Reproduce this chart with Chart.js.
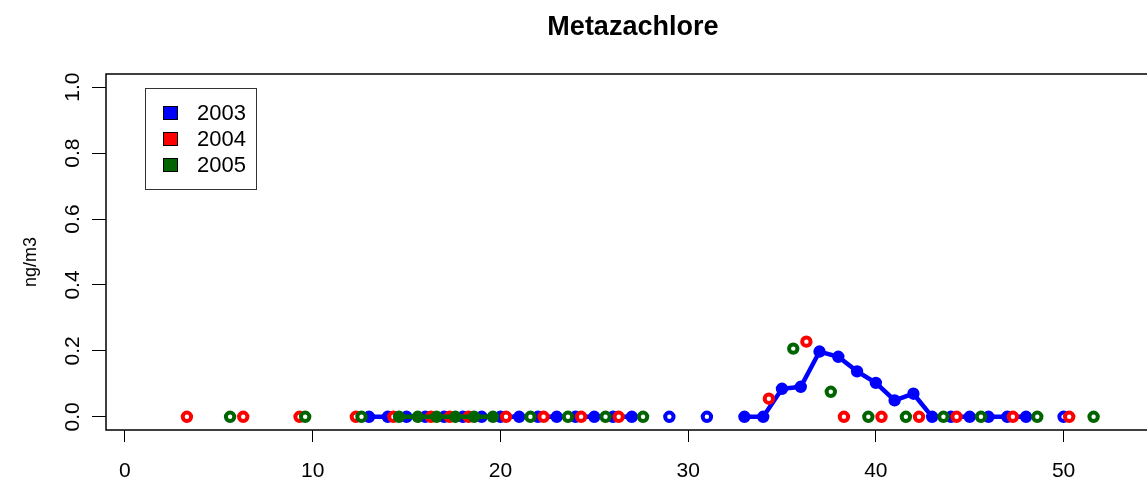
<!DOCTYPE html>
<html>
<head>
<meta charset="utf-8">
<title>Metazachlore</title>
<script src="https://cdn.jsdelivr.net/npm/chart.js@4/dist/chart.umd.min.js"></script>
<style>
  html, body { margin: 0; padding: 0; background: #fff; overflow: hidden; }
  #wrap { width: 1147px; height: 482px; overflow: hidden; }
  canvas { display: block; }
</style>
</head>
<body>
<div id="wrap"><canvas id="chart" width="1160" height="482"></canvas></div>
<script>
// weekly samples, ng/m3
const WEEKS_2003 = [13, 14, 15, 16, 17, 18, 19, 20, 21, 22, 23, 24, 25, 26, 27, 29, 31,
  33, 34, 35, 36, 37, 38, 39, 40, 41, 42, 43, 44, 45, 46, 47, 48, 50];
const VALUES_2003 = [0, 0, 0, 0, 0, 0, 0, 0, 0, 0, 0, 0, 0, 0, 0, 0, 0,
  0, 0, 0.085, 0.091, 0.198, 0.182, 0.138, 0.103, 0.05, 0.07, 0, 0, 0, 0, 0, 0, 0];

const WEEKS_2004 = [3.3, 6.3, 9.3, 12.3, 14.3, 16.3, 17.3, 18.3, 20.3, 22.3, 24.3, 26.3,
  34.3, 36.3, 38.3, 40.3, 42.3, 44.3, 47.3, 50.3];
const VALUES_2004 = [0, 0, 0, 0, 0, 0, 0, 0, 0, 0, 0, 0,
  0.055, 0.228, 0, 0, 0, 0, 0, 0];

const WEEKS_2005 = [5.6, 9.6, 12.6, 14.6, 15.6, 16.6, 17.6, 18.6, 19.6, 21.6, 23.6, 25.6, 27.6,
  35.6, 37.6, 39.6, 41.6, 43.6, 45.6, 48.6, 51.6];
const VALUES_2005 = [0, 0, 0, 0, 0, 0, 0, 0, 0, 0, 0, 0, 0,
  0.207, 0.076, 0, 0, 0, 0, 0, 0];

const YEARS = ['2003', '2004', '2005'];
const COLORS = ['#0000ff', '#ff0000', '#006400'];
const X_TICKS = [0, 10, 20, 30, 40, 50];
const Y_TICKS = [0, 0.2, 0.4, 0.6, 0.8, 1.0];

const FONT = 'Liberation Sans, Arial, Helvetica, sans-serif';

// break the line wherever a week is missing
function toPoints(weeks, values) {
  const pts = [];
  weeks.forEach((w, i) => {
    if (i > 0 && w - weeks[i - 1] > 1.5) pts.push({ x: (w + weeks[i - 1]) / 2, y: null });
    pts.push({ x: w, y: values[i] });
  });
  return pts;
}

// joined points are drawn solid, lone ones hollow
function fillFor(color) {
  return ctx => {
    const d = ctx.dataset.data, i = ctx.dataIndex;
    const joined = (d[i - 1] && d[i - 1].y !== null) || (d[i + 1] && d[i + 1].y !== null);
    return joined ? color : '#ffffff';
  };
}

function makeSet(label, weeks, values, color, order) {
  return {
    label,
    data: toPoints(weeks, values),
    showLine: true,
    spanGaps: false,
    borderColor: color,
    borderWidth: 4.5,
    pointRadius: 4.2,
    pointBorderWidth: 4,
    pointBorderColor: color,
    pointBackgroundColor: fillFor(color),
    order
  };
}

// title, box, rotated y labels, y title and the legend
const frame = {
  id: 'frame',
  afterDraw(chart) {
    const { ctx, chartArea: a, scales } = chart;
    ctx.save();
    ctx.strokeStyle = '#000';
    ctx.lineWidth = 1.5;
    ctx.strokeRect(a.left, a.top, a.right - a.left, a.bottom - a.top);

    ctx.fillStyle = '#000';
    ctx.textAlign = 'center';
    ctx.textBaseline = 'middle';
    ctx.font = 'bold 27px ' + FONT;
    // plot box runs a little past the window edge
    ctx.fillText('Metazachlore', (a.left + a.right) / 2 + 4, 28);

    ctx.font = '21px ' + FONT;
    Y_TICKS.forEach(v => {
      ctx.save();
      ctx.translate(73, scales.y.getPixelForValue(v));
      ctx.rotate(-Math.PI / 2);
      ctx.fillText(v.toFixed(1), 0, 0);
      ctx.restore();
    });

    ctx.save();
    ctx.font = '18px ' + FONT;
    ctx.translate(31, (a.top + a.bottom) / 2 + 10);
    ctx.rotate(-Math.PI / 2);
    ctx.fillText('ng/m3', 0, 0);
    ctx.restore();

    // legend
    const lx = 145, ly = 88, lw = 111, lh = 101;
    ctx.strokeStyle = '#333';
    ctx.lineWidth = 1;
    ctx.strokeRect(lx + 0.5, ly + 0.5, lw, lh);
    ctx.font = '22px ' + FONT;
    ctx.textAlign = 'left';
    YEARS.forEach((yr, i) => {
      const cy = ly + 25 + i * 26;
      ctx.fillStyle = COLORS[i];
      ctx.fillRect(163, cy - 7, 15, 14);
      ctx.strokeStyle = '#000';
      ctx.strokeRect(163.5, cy - 6.5, 14, 13);
      ctx.fillStyle = '#000';
      ctx.fillText(yr, 197, cy + 1);
    });
    ctx.restore();
  }
};

new Chart(document.getElementById('chart'), {
  type: 'scatter',
  data: {
    datasets: [
      makeSet(YEARS[0], WEEKS_2003, VALUES_2003, COLORS[0], 3),
      makeSet(YEARS[1], WEEKS_2004, VALUES_2004, COLORS[1], 2),
      makeSet(YEARS[2], WEEKS_2005, VALUES_2005, COLORS[2], 1)
    ]
  },
  options: {
    responsive: false,
    animation: false,
    devicePixelRatio: 1,
    layout: { padding: { top: 74, left: 0, right: 0, bottom: 0 } },
    plugins: {
      legend: { display: false },
      tooltip: { enabled: false },
      title: { display: false }
    },
    scales: {
      x: {
        type: 'linear',
        min: -1.01,
        max: 54.7,
        afterBuildTicks: s => { s.ticks = X_TICKS.map(v => ({ value: v })); },
        afterFit: s => { s.height = 52; },
        grid: { drawOnChartArea: false, drawTicks: true, tickLength: 12, color: '#000', lineWidth: 1 },
        border: { display: false },
        ticks: { color: '#000', font: { family: FONT, size: 21 }, padding: 17, maxRotation: 0 }
      },
      y: {
        type: 'linear',
        min: -0.04,
        max: 1.04,
        afterBuildTicks: s => { s.ticks = Y_TICKS.map(v => ({ value: v })); },
        afterFit: s => { s.width = 106; },
        grid: { drawOnChartArea: false, drawTicks: true, tickLength: 14, color: '#000', lineWidth: 1 },
        border: { display: false },
        ticks: { display: false }
      }
    }
  },
  plugins: [frame]
});
</script>
</body>
</html>
